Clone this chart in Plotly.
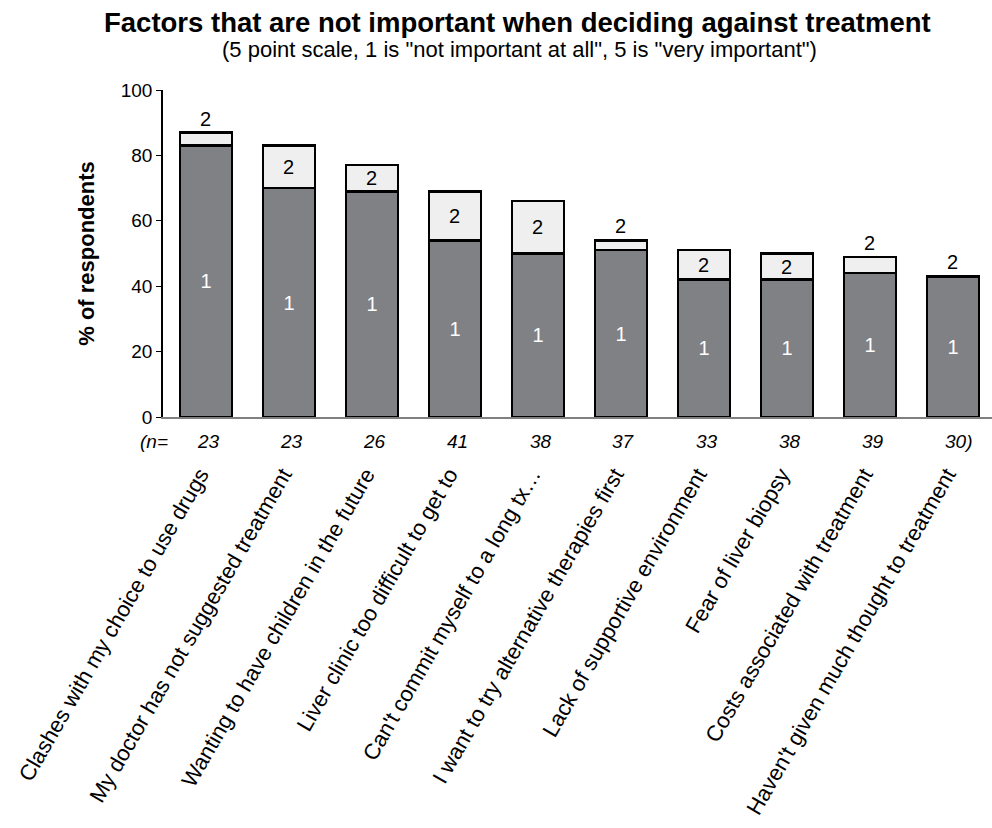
import plotly.graph_objects as go

# Reasons listed in the survey (x-axis categories)
categories = [
    "Clashes with my choice to use drugs",
    "My doctor has not suggested treatment",
    "Wanting to have children in the future",
    "Liver clinic too difficult to get to",
    "Can't commit myself to a long tx…",
    "I want to try alternative therapies first",
    "Lack of supportive environment",
    "Fear of liver biopsy",
    "Costs associated with treatment",
    "Haven't given much thought to treatment",
]

# % of respondents rating 1 ("not important at all") and 2
score1 = [83, 70, 69, 54, 50, 51, 42, 42, 44, 43]
score2 = [4, 13, 8, 15, 16, 3, 9, 8, 5, 0]

# number of respondents per item
n_resp = [23, 23, 26, 41, 38, 37, 33, 38, 39, 30]

y_ticks = [0, 20, 40, 60, 80, 100]

FONT = "Arial, 'Liberation Sans', sans-serif"
DARK = "#808185"
LIGHT = "#efefef"
Y_MAX = 100

# plot-area margins in pixels
PLOT_L, PLOT_R, PLOT_T, PLOT_B = 163, 0, 90, 411
W, H = 992, 828
pw = W - PLOT_L - PLOT_R
ph = H - PLOT_T - PLOT_B


def px_to_paper(px_x, px_y):
    return (px_x - PLOT_L) / pw, (H - px_y - PLOT_B) / ph


x = list(range(len(categories)))

fig = go.Figure()
fig.add_trace(go.Bar(
    x=x, y=score1, name="1",
    marker=dict(color=DARK, line=dict(color="black", width=2.5)),
    width=0.63,
    text=["1"] * len(x), textposition="inside", insidetextanchor="middle",
    textfont=dict(color="white", size=20, family=FONT),
    constraintext="none",
))
fig.add_trace(go.Bar(
    x=x, y=score2, name="2",
    marker=dict(color=LIGHT, line=dict(color="black", width=2.5)),
    width=0.63,
))

annotations = []
# "2" labels: inside the light segment when tall enough, otherwise above the bar
for i, (a, b) in enumerate(zip(score1, score2)):
    if b >= 8:
        annotations.append(dict(x=i, y=a + b / 2, xref="x", yref="y", text="2",
                                showarrow=False, yanchor="middle",
                                font=dict(size=20, color="black", family=FONT)))
    else:
        annotations.append(dict(x=i, y=a + b, xref="x", yref="y", text="2",
                                showarrow=False, yanchor="bottom", yshift=1,
                                font=dict(size=20, color="black", family=FONT)))

# sample-size row under the axis
_, n_row_y = px_to_paper(0, 441)
for i, n in enumerate(n_resp):
    last = i == len(n_resp) - 1
    txt = f"<i>{n})</i>" if last else f"<i>{n}</i>"
    annotations.append(dict(x=i, y=n_row_y, xref="x", yref="paper", text=txt,
                            showarrow=False, yanchor="middle", xshift=6 if last else 3,
                            font=dict(size=19, color="black", family=FONT)))
annotations.append(dict(x=-0.43, y=n_row_y, xref="x", yref="paper", text="<i>(n=</i>",
                        showarrow=False, xanchor="right", yanchor="middle",
                        font=dict(size=19, color="black", family=FONT)))

# title and subtitle
tx, ty = px_to_paper(517, 23)
annotations.append(dict(x=tx, y=ty, xref="paper", yref="paper", yanchor="middle",
                        text="<b>Factors that are not important when deciding against treatment</b>",
                        showarrow=False, font=dict(size=27.5, color="black", family=FONT)))
sx, sy = px_to_paper(519, 49)
annotations.append(dict(x=sx, y=sy, xref="paper", yref="paper", yanchor="middle",
                        text="(5 point scale, 1 is \"not important at all\", 5 is \"very important\")",
                        showarrow=False, font=dict(size=22, color="black", family=FONT)))

fig.update_layout(
    width=W, height=H,
    margin=dict(l=PLOT_L, r=PLOT_R, t=PLOT_T, b=PLOT_B),
    barmode="stack",
    plot_bgcolor="white", paper_bgcolor="white",
    showlegend=False,
    font=dict(family=FONT, color="black"),
    xaxis=dict(
        range=[-0.518, 9.47],
        tickmode="array", tickvals=x, ticktext=categories,
        tickangle=-60, tickfont=dict(size=22, color="black", family=FONT),
        ticks="", ticklabelstandoff=34, ticklabelshift=-6,
        showline=True, linecolor="#808080", linewidth=2,
        showgrid=False, zeroline=False,
    ),
    yaxis=dict(
        range=[0, Y_MAX],
        tickmode="array", tickvals=y_ticks,
        tickfont=dict(size=19, color="black", family=FONT),
        ticks="outside", ticklen=5, tickcolor="black",
        showline=True, linecolor="black", linewidth=1.5,
        showgrid=False, zeroline=False,
        title=dict(text="<b>% of respondents</b>", font=dict(size=22, color="black", family=FONT), standoff=20),
    ),
    annotations=annotations,
)

fig.write_html("out.html")
